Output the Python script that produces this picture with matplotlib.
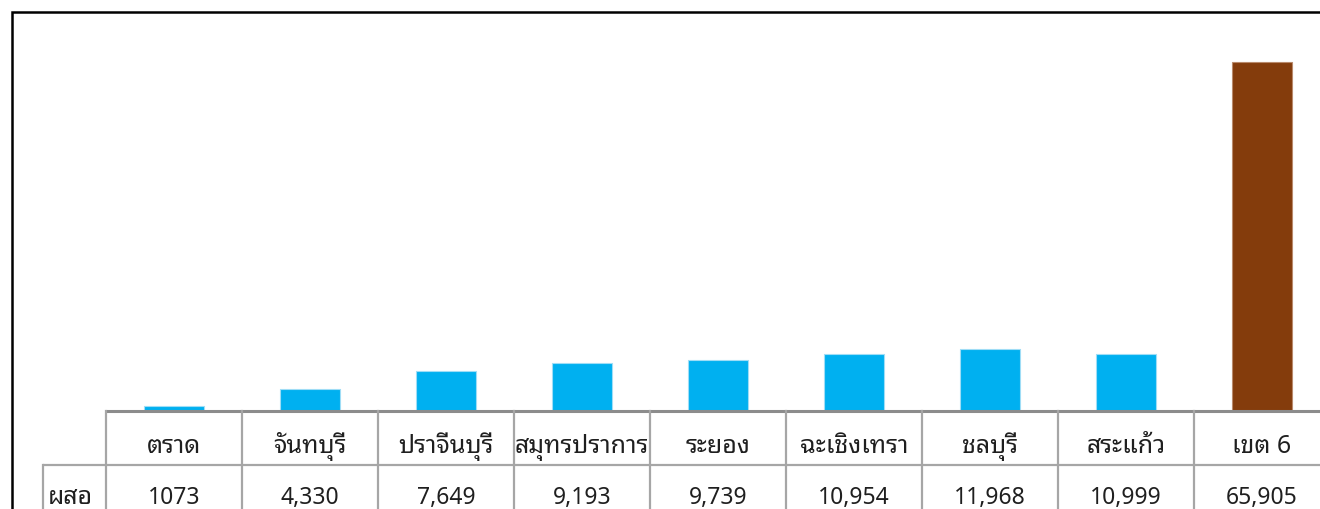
import matplotlib
matplotlib.use("Agg")
import matplotlib.pyplot as plt
from matplotlib import font_manager
from matplotlib.ft2font import FT2Font

# data
provinces = ["ตราด", "จันทบุรี", "ปราจีนบุรี", "สมุทรปราการ", "ระยอง",
             "ฉะเชิงเทรา", "ชลบุรี", "สระแก้ว", "เขต 6"]
counts = [1073, 4330, 7649, 9193, 9739, 10954, 11968, 10999, 65905]
count_labels = ["1073", "4,330", "7,649", "9,193", "9,739",
                "10,954", "11,968", "10,999", "65,905"]
row_label = "ผสอ"
bar_colors = ["#00B0F0"] * 8 + ["#843C0C"]
edge_colors = ["#9FDDF6"] * 8 + ["#B98A6C"]


def thai_family():
    # pick an installed family that actually has Thai glyphs
    preferred = ["Tahoma", "Leelawadee UI", "Noto Sans Thai Looped", "Noto Looped Thai",
                 "Noto Sans Thai", "Noto Sans Thai UI", "Noto Serif Thai", "Garuda",
                 "Loma", "Sarabun"]
    found = set()
    for f in font_manager.fontManager.ttflist:
        try:
            if 0x0E01 in FT2Font(f.fname).get_charmap():
                found.add(f.name)
        except Exception:
            pass
    for name in preferred:
        if name in found:
            return name
    return sorted(found)[0] if found else None


fam = thai_family()
families = ([fam] if fam else []) + ["DejaVu Sans"]
plt.rcParams["font.family"] = families

W, H = 1320, 509
fig = plt.figure(figsize=(W / 100, H / 100), dpi=100)

# column geometry in pixels
col_left = 106
col_w = 136
ncol = len(provinces)
right_px = col_left + col_w * ncol
base_px = 412
top_px = 12
units_per_px = 188.5

# bar chart area
ax = fig.add_axes([col_left / W, (H - base_px) / H,
                   (right_px - col_left) / W, (base_px - top_px) / H])
ax.bar(range(ncol), counts, width=60 / col_w, color=bar_colors,
       edgecolor=edge_colors, linewidth=0.8, zorder=2)
ax.set_xlim(-0.5, ncol - 0.5)
ax.set_ylim(0, (base_px - top_px) * units_per_px)
ax.axis("off")

# data table below the bars
tab_left = 42
tab = fig.add_axes([tab_left / W, 0, (right_px - tab_left) / W, (H - 410) / H])
tab.set_xlim(-0.5 - (col_left - tab_left) / col_w, ncol - 0.5)
tab.set_ylim(H, 410)
tab.axis("off")
x0 = tab.get_xlim()[0]

grid = "#A6A6A6"
ink = "#1F1F1F"
tab.plot([-0.5, ncol - 0.5], [411, 411], color="#8C8C8C", lw=2.2,
         solid_capstyle="butt", clip_on=False)
tab.plot([x0 + 0.01, ncol - 0.5], [465, 465], color=grid, lw=1.6,
         solid_capstyle="butt", clip_on=False)
for k in range(ncol + 1):
    tab.plot([k - 0.5, k - 0.5], [411, H + 5], color=grid, lw=1.6, clip_on=False)
tab.plot([x0 + 0.01] * 2, [465, H + 5], color=grid, lw=1.6, clip_on=False)

for i, (name, lab) in enumerate(zip(provinces, count_labels)):
    tab.text(i, 453, name, ha="center", va="baseline", fontsize=18, color=ink)
    tab.text(i, 504, lab, ha="center", va="baseline", fontsize=16.5, color=ink)
tab.text(x0 + 0.04, 504, row_label, ha="left", va="baseline",
         fontsize=18, color=ink)

# outer frame of the chart
frame = fig.add_axes([0, 0, 1, 1], facecolor="none")
frame.set_xlim(0, W)
frame.set_ylim(H, 0)
frame.axis("off")
frame.plot([11.5, 11.5, W + 5], [H + 5, 11.5, 11.5], color="black", lw=1.8,
           solid_joinstyle="miter", clip_on=False)

fig.savefig("out.png", dpi=100)
